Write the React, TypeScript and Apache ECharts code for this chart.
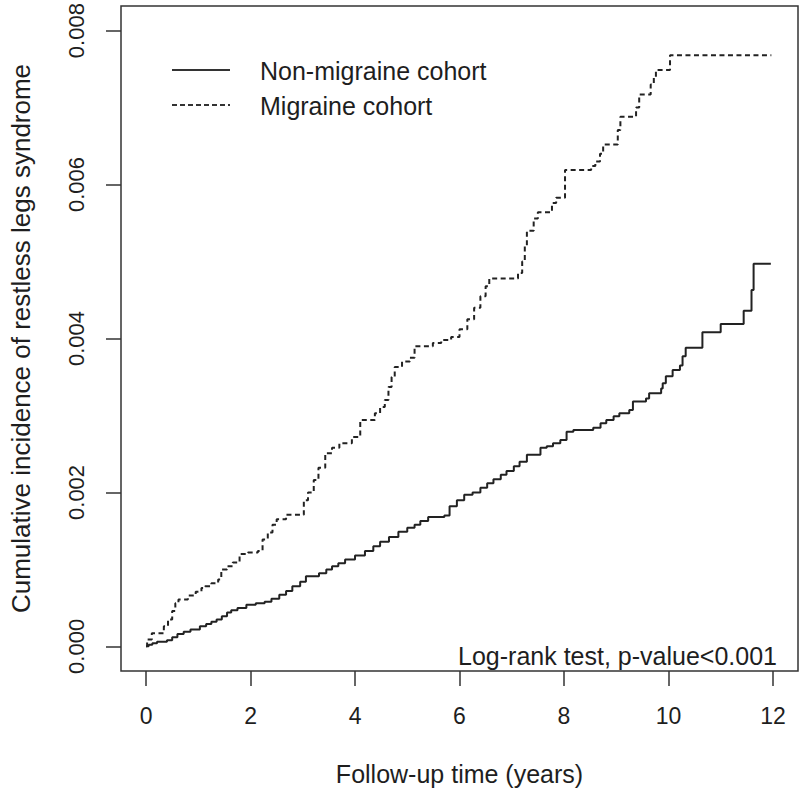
import React, { useEffect, useRef } from "react";
import * as echarts from "echarts";

// Kaplan-Meier style cumulative incidence
const migraineYears = [
  0.0, 0.02, 0.11, 0.34, 0.42, 0.5, 0.56, 0.62, 0.8, 0.95, 1.06, 1.13, 1.25, 1.38, 1.44, 1.55, 1.66, 1.79,
  1.95, 2.14, 2.23, 2.33, 2.42, 2.5, 2.68, 3.02, 3.1, 3.21, 3.3, 3.43, 3.56, 3.7, 3.94, 4.1, 4.38, 4.48,
  4.57, 4.64, 4.7, 4.76, 4.9, 5.05, 5.14, 5.49, 5.65, 5.84, 6.0, 6.15, 6.28, 6.4, 6.5, 6.57, 7.12, 7.2,
  7.25, 7.29, 7.42, 7.5, 7.77, 7.85, 8.02, 8.52, 8.6, 8.69, 8.75, 9.03, 9.08, 9.38, 9.44, 9.66, 9.72,
  9.76, 10.03, 11.97,
];
const migraineValues = [
  0.0, 0.00009, 0.00017, 0.00026, 0.00035, 0.00046, 0.00056, 0.00061, 0.00066, 0.00071, 0.00076, 0.00078,
  0.00082, 0.00087, 0.001, 0.00104, 0.00109, 0.0012, 0.00122, 0.00124, 0.00139, 0.00148, 0.00158, 0.00165,
  0.00171, 0.0019, 0.002, 0.00216, 0.00232, 0.00251, 0.00258, 0.00264, 0.00272, 0.00294, 0.00303, 0.00311,
  0.0032, 0.00337, 0.0035, 0.00363, 0.0037, 0.00375, 0.0039, 0.00394, 0.00398, 0.00402, 0.00412, 0.00425,
  0.0044, 0.00455, 0.00468, 0.00478, 0.00485, 0.005, 0.0052, 0.0054, 0.00556, 0.00564, 0.00576, 0.00583,
  0.00619, 0.00624, 0.0063, 0.0064, 0.00652, 0.00671, 0.00688, 0.007, 0.00717, 0.0073, 0.0074, 0.00749,
  0.00768, 0.00768,
];

const nonMigraineYears = [
  0.0, 0.05, 0.12, 0.21, 0.4, 0.5, 0.6, 0.72, 0.85, 1.03, 1.15, 1.25, 1.35, 1.45, 1.55, 1.63, 1.75, 1.92,
  2.1, 2.27, 2.4, 2.55, 2.68, 2.8, 2.95, 3.06, 3.31, 3.45, 3.56, 3.68, 3.81, 4.0, 4.19, 4.35, 4.48, 4.65,
  4.83, 5.0, 5.14, 5.25, 5.4, 5.71, 5.81, 5.95, 6.09, 6.25, 6.4, 6.53, 6.65, 6.79, 6.9, 7.04, 7.15, 7.29,
  7.55, 7.67, 7.79, 7.93, 8.05, 8.18, 8.56, 8.7, 8.81, 8.95, 9.06, 9.25, 9.32, 9.57, 9.63, 9.86, 9.89,
  9.95, 10.08, 10.22, 10.27, 10.33, 10.65, 11.0, 11.44, 11.59, 11.63, 11.96,
];
const nonMigraineValues = [
  0.0, 0.00002, 0.00004, 0.00006, 0.00008, 0.00012, 0.00016, 0.00019, 0.00022, 0.00026, 0.00029, 0.00032,
  0.00035, 0.00039, 0.00044, 0.00047, 0.0005, 0.00054, 0.00056, 0.00058, 0.00062, 0.00067, 0.00072,
  0.00078, 0.00084, 0.00091, 0.00095, 0.001, 0.00104, 0.00108, 0.00113, 0.00118, 0.00124, 0.0013, 0.00136,
  0.00142, 0.00149, 0.00154, 0.00158, 0.00163, 0.00168, 0.0017, 0.00182, 0.0019, 0.00197, 0.002, 0.00206,
  0.00212, 0.00217, 0.00223, 0.00228, 0.00234, 0.0024, 0.00249, 0.00258, 0.0026, 0.00264, 0.00268,
  0.00279, 0.00281, 0.00284, 0.0029, 0.00294, 0.00299, 0.00303, 0.00307, 0.00318, 0.00322, 0.00329,
  0.00335, 0.00342, 0.00351, 0.00359, 0.00365, 0.00377, 0.00388, 0.00408, 0.00419, 0.00436, 0.00463,
  0.00497, 0.00497,
];

const xTicks = [0, 2, 4, 6, 8, 10, 12];
const yTicks = [0, 0.002, 0.004, 0.006, 0.008];

const seriesNames = ["Non-migraine cohort", "Migraine cohort"];
const xTitle = "Follow-up time (years)";
const yTitle = "Cumulative incidence of restless legs syndrome";
const testNote = "Log-rank test, p-value<0.001";

const FONT = "'Liberation Sans', Arial, sans-serif";
const INK = "#1e1e1e";

function zip(a: number[], b: number[]) {
  return a.map((v, i) => [v, b[i]]);
}

export default function App() {
  const ref = useRef<HTMLDivElement>(null);

  useEffect(() => {
    if (!ref.current) return;
    const chart = echarts.init(ref.current, undefined, { renderer: "svg" });
    chart.setOption({
      animation: false,
      backgroundColor: "#ffffff",
      textStyle: { fontFamily: FONT, color: INK },
      grid: {
        left: 117,
        right: 2,
        top: 6,
        bottom: 122,
        show: true,
        borderColor: "#333",
        borderWidth: 1.5,
        backgroundColor: "transparent",
      },
      xAxis: {
        type: "value",
        min: -0.48,
        max: 12.48,
        name: xTitle,
        nameLocation: "middle",
        nameGap: 90,
        nameTextStyle: { fontSize: 25, color: INK, fontFamily: FONT },
        axisLine: { show: false, onZero: false },
        splitLine: { show: false },
        axisTick: {
          show: true,
          inside: false,
          length: 15,
          customValues: xTicks,
          lineStyle: { color: "#333", width: 1.5 },
        },
        axisLabel: {
          customValues: xTicks,
          margin: 33,
          fontSize: 23,
          color: INK,
          fontFamily: FONT,
          formatter: (v: number) => String(v),
        },
      },
      yAxis: {
        type: "value",
        min: -0.00032,
        max: 0.00832,
        name: yTitle,
        nameLocation: "middle",
        nameGap: 87,
        nameRotate: 90,
        nameTextStyle: { fontSize: 26, color: INK, fontFamily: FONT },
        axisLine: { show: false, onZero: false },
        splitLine: { show: false },
        axisTick: {
          show: true,
          inside: false,
          length: 15,
          customValues: yTicks,
          lineStyle: { color: "#333", width: 1.5 },
        },
        axisLabel: {
          customValues: yTicks,
          rotate: 90,
          margin: 34,
          fontSize: 22,
          color: INK,
          fontFamily: FONT,
          formatter: (v: number) => v.toFixed(3),
        },
      },
      series: [
        {
          name: seriesNames[0],
          type: "line",
          step: "end",
          symbol: "none",
          data: zip(nonMigraineYears, nonMigraineValues),
          lineStyle: { color: "#222", width: 2, type: "solid" },
        },
        {
          name: seriesNames[1],
          type: "line",
          step: "end",
          symbol: "none",
          data: zip(migraineYears, migraineValues),
          lineStyle: { color: "#222", width: 2, type: [5, 3.5] },
        },
      ],
      graphic: [
        {
          type: "line",
          shape: { x1: 172, y1: 70, x2: 230, y2: 70 },
          style: { stroke: "#333", lineWidth: 2 },
        },
        {
          type: "text",
          x: 260,
          y: 71,
          style: { text: seriesNames[0], fontSize: 25, fontFamily: FONT, fill: INK, verticalAlign: "middle" },
        },
        {
          type: "line",
          shape: { x1: 172, y1: 105, x2: 230, y2: 105 },
          style: { stroke: "#333", lineWidth: 2, lineDash: [5, 3] },
        },
        {
          type: "text",
          x: 260,
          y: 106,
          style: { text: seriesNames[1], fontSize: 25, fontFamily: FONT, fill: INK, verticalAlign: "middle" },
        },
        {
          type: "text",
          x: 777,
          y: 656,
          style: {
            text: testNote,
            fontSize: 25,
            fontFamily: FONT,
            fill: INK,
            align: "right",
            verticalAlign: "middle",
          },
        },
      ],
    });
    return () => chart.dispose();
  }, []);

  return (
    <div
      ref={ref}
      style={{ position: "absolute", left: 0, top: 0, width: 800, height: 793, background: "#fff" }}
    />
  );
}
